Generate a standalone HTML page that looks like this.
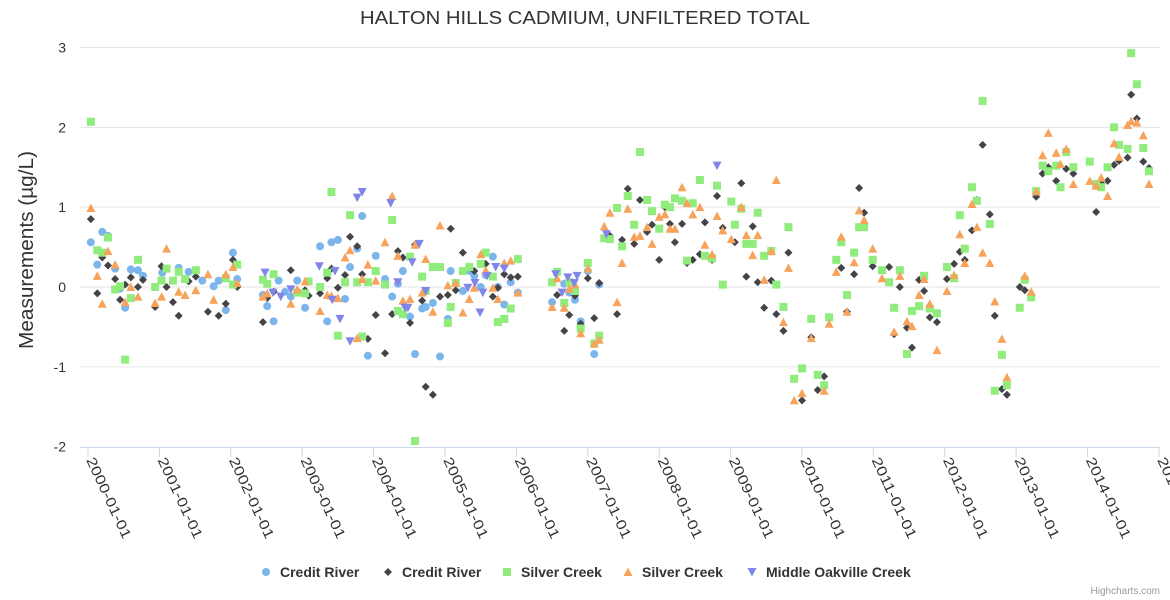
<!DOCTYPE html>
<html><head><meta charset="utf-8"><style>
html,body{margin:0;padding:0;background:#fff;}
svg{display:block;font-family:"Liberation Sans",sans-serif;}
</style></head><body>
<svg id="chart" width="1170" height="600">
<rect width="1170" height="600" fill="#fff"/>
<text x="585" y="24" text-anchor="middle" font-size="18" fill="#333" textLength="450" lengthAdjust="spacingAndGlyphs">HALTON HILLS CADMIUM, UNFILTERED TOTAL</text>
<text transform="translate(33,250) rotate(-90)" text-anchor="middle" font-size="20" fill="#333" textLength="198" lengthAdjust="spacingAndGlyphs">Measurements (µg/L)</text>
<g id="grid"></g><g id="axes"></g><g id="marks"></g><g id="legend"></g>
<text x="1160" y="594" text-anchor="end" font-size="10" fill="#999">Highcharts.com</text>
</svg>
<script>
const yTicks=[-2,-1,0,1,2,3];
const xTickYears=[2000,2001,2002,2003,2004,2005,2006,2007,2008,2009,2010,2011,2012,2013,2014,2015];
const seriesNames=["Credit River","Credit River","Silver Creek","Silver Creek","Middle Oakville Creek"];
const creditRiverA=[[2000.04,0.56],[2000.13,0.28],[2000.20,0.69],[2000.28,0.64],[2000.38,0.23],[2000.45,-0.02],[2000.52,-0.26],[2000.60,0.22],[2000.70,0.21],[2000.77,0.14],[2001.04,0.18],[2001.27,0.24],[2001.41,0.19],[2001.60,0.08],[2001.76,0.01],[2001.83,0.08],[2001.93,-0.29],[2002.03,0.43],[2002.09,0.10],[2002.45,-0.10],[2002.51,-0.24],[2002.60,-0.43],[2002.67,0.08],[2002.76,-0.06],[2002.84,-0.12],[2002.93,0.08],[2003.04,-0.26],[2003.25,0.51],[2003.35,-0.43],[2003.41,0.56],[2003.50,0.59],[2003.60,-0.15],[2003.67,0.25],[2003.77,0.48],[2003.84,0.89],[2003.92,-0.86],[2004.03,0.39],[2004.16,0.10],[2004.26,-0.12],[2004.34,0.04],[2004.41,0.20],[2004.51,-0.37],[2004.58,-0.84],[2004.68,-0.27],[2004.73,-0.25],[2004.83,-0.20],[2004.93,-0.87],[2005.04,-0.40],[2005.08,0.20],[2005.25,-0.05],[2005.35,0.20],[2005.41,0.14],[2005.50,0.00],[2005.57,0.15],[2005.67,0.38],[2005.74,0.00],[2005.83,-0.22],[2005.92,0.06],[2006.02,-0.07],[2006.50,-0.19],[2006.67,0.04],[2006.74,-0.07],[2006.82,-0.16],[2006.90,-0.43],[2007.00,0.20],[2007.09,-0.84],[2007.16,0.03]];
const creditRiverB=[[2000.04,0.85],[2000.13,-0.08],[2000.20,0.37],[2000.28,0.27],[2000.38,0.10],[2000.45,-0.16],[2000.52,0.03],[2000.60,0.12],[2000.70,0.00],[2000.77,0.09],[2000.94,-0.25],[2001.03,0.26],[2001.10,0.00],[2001.19,-0.19],[2001.27,-0.36],[2001.41,0.07],[2001.51,0.13],[2001.68,-0.31],[2001.83,-0.36],[2001.93,-0.21],[2002.03,0.34],[2002.09,0.00],[2002.45,-0.44],[2002.51,-0.14],[2002.60,-0.06],[2002.84,0.21],[2003.04,-0.04],[2003.09,-0.11],[2003.25,-0.08],[2003.35,0.11],[2003.41,0.23],[2003.50,-0.01],[2003.60,0.15],[2003.67,0.63],[2003.77,0.51],[2003.84,0.16],[2003.92,-0.65],[2004.03,-0.35],[2004.16,-0.83],[2004.26,-0.34],[2004.34,0.45],[2004.41,0.37],[2004.51,-0.45],[2004.58,0.53],[2004.68,-0.17],[2004.73,-1.25],[2004.83,-1.35],[2004.93,-0.12],[2005.04,-0.10],[2005.08,0.73],[2005.15,-0.04],[2005.25,0.43],[2005.41,0.20],[2005.57,0.29],[2005.67,-0.12],[2005.74,-0.01],[2005.83,0.16],[2005.92,0.12],[2006.02,0.13],[2006.57,-0.10],[2006.67,-0.55],[2006.74,-0.35],[2006.82,-0.11],[2006.90,-0.46],[2007.00,0.11],[2007.09,-0.39],[2007.16,0.05],[2007.31,0.64],[2007.41,-0.34],[2007.48,0.59],[2007.56,1.23],[2007.65,0.54],[2007.73,1.09],[2007.83,0.69],[2007.90,0.78],[2008.00,0.34],[2008.08,1.00],[2008.15,0.79],[2008.22,0.56],[2008.32,0.79],[2008.39,0.30],[2008.47,0.34],[2008.57,0.41],[2008.64,0.81],[2008.74,0.34],[2008.81,1.14],[2008.89,0.74],[2009.06,0.56],[2009.15,1.30],[2009.22,0.13],[2009.31,0.76],[2009.38,0.06],[2009.47,-0.26],[2009.57,0.08],[2009.64,-0.34],[2009.74,-0.55],[2009.81,0.43],[2010.00,-1.42],[2010.13,-0.63],[2010.22,-1.29],[2010.31,-1.12],[2010.55,0.24],[2010.63,-0.31],[2010.73,0.16],[2010.80,1.24],[2010.87,0.93],[2010.99,0.26],[2011.22,0.25],[2011.29,-0.59],[2011.37,0.00],[2011.47,-0.51],[2011.54,-0.76],[2011.64,0.09],[2011.71,-0.05],[2011.79,-0.38],[2011.89,-0.44],[2012.03,0.10],[2012.13,0.29],[2012.21,0.44],[2012.28,0.34],[2012.38,0.71],[2012.45,1.09],[2012.53,1.78],[2012.63,0.91],[2012.70,-0.36],[2012.80,-1.28],[2012.87,-1.35],[2013.05,0.00],[2013.12,-0.04],[2013.28,1.13],[2013.37,1.42],[2013.45,1.50],[2013.56,1.33],[2013.70,1.48],[2013.80,1.42],[2014.12,0.94],[2014.19,1.30],[2014.28,1.33],[2014.37,1.53],[2014.44,1.58],[2014.56,1.62],[2014.61,2.41],[2014.69,2.11],[2014.78,1.57],[2014.86,1.49]];
const silverCreekA=[[2000.04,2.07],[2000.13,0.46],[2000.20,0.43],[2000.28,0.62],[2000.38,-0.03],[2000.45,0.01],[2000.52,-0.91],[2000.60,-0.14],[2000.70,0.34],[2000.94,0.00],[2001.03,0.08],[2001.10,0.23],[2001.19,0.08],[2001.27,0.19],[2001.36,0.10],[2001.51,0.21],[2001.93,0.11],[2002.03,0.03],[2002.09,0.28],[2002.45,0.09],[2002.51,0.04],[2002.60,0.16],[2002.93,-0.07],[2003.04,-0.08],[2003.09,0.07],[2003.25,0.00],[2003.35,0.18],[2003.41,1.19],[2003.50,-0.61],[2003.60,0.06],[2003.67,0.90],[2003.77,0.06],[2003.84,-0.62],[2003.92,0.06],[2004.03,0.20],[2004.16,0.03],[2004.26,0.84],[2004.34,-0.30],[2004.41,-0.34],[2004.51,0.38],[2004.58,-1.93],[2004.68,0.13],[2004.73,-0.05],[2004.83,0.25],[2004.93,0.25],[2005.04,-0.45],[2005.08,-0.25],[2005.15,0.05],[2005.25,0.20],[2005.34,0.25],[2005.50,0.29],[2005.57,0.43],[2005.67,0.13],[2005.74,-0.44],[2005.83,-0.40],[2005.92,-0.27],[2006.02,0.35],[2006.50,0.06],[2006.57,0.19],[2006.67,-0.20],[2006.74,0.06],[2006.82,-0.05],[2006.90,-0.52],[2007.00,0.30],[2007.09,-0.71],[2007.16,-0.61],[2007.23,0.61],[2007.31,0.60],[2007.41,0.99],[2007.48,0.51],[2007.56,1.14],[2007.65,0.78],[2007.73,1.69],[2007.83,1.09],[2007.90,0.95],[2008.00,0.73],[2008.08,1.03],[2008.15,1.00],[2008.22,1.11],[2008.32,1.08],[2008.39,0.33],[2008.47,1.05],[2008.57,1.34],[2008.64,0.39],[2008.74,0.36],[2008.81,1.27],[2008.89,0.03],[2009.01,1.07],[2009.06,0.78],[2009.15,0.98],[2009.22,0.54],[2009.31,0.54],[2009.38,0.93],[2009.47,0.39],[2009.57,0.45],[2009.64,0.03],[2009.74,-0.25],[2009.81,0.75],[2009.89,-1.15],[2010.00,-1.02],[2010.13,-0.40],[2010.22,-1.10],[2010.31,-1.23],[2010.38,-0.38],[2010.48,0.34],[2010.55,0.56],[2010.63,-0.10],[2010.73,0.43],[2010.80,0.75],[2010.87,0.75],[2010.99,0.34],[2011.12,0.21],[2011.22,0.06],[2011.29,-0.26],[2011.37,0.21],[2011.47,-0.84],[2011.54,-0.30],[2011.64,-0.24],[2011.71,0.14],[2011.79,-0.27],[2011.89,-0.33],[2012.03,0.25],[2012.13,0.11],[2012.21,0.90],[2012.28,0.48],[2012.38,1.25],[2012.45,1.08],[2012.53,2.33],[2012.63,0.79],[2012.70,-1.30],[2012.80,-0.85],[2012.87,-1.23],[2013.05,-0.26],[2013.12,0.09],[2013.21,-0.13],[2013.28,1.20],[2013.37,1.52],[2013.45,1.45],[2013.56,1.52],[2013.62,1.25],[2013.70,1.69],[2013.80,1.50],[2014.03,1.57],[2014.12,1.29],[2014.19,1.25],[2014.28,1.50],[2014.37,2.00],[2014.44,1.78],[2014.56,1.73],[2014.61,2.93],[2014.69,2.54],[2014.78,1.74],[2014.86,1.45]];
const silverCreekB=[[2000.04,0.99],[2000.13,0.14],[2000.20,-0.21],[2000.28,0.45],[2000.38,0.28],[2000.52,-0.19],[2000.60,0.00],[2000.70,-0.12],[2000.94,-0.20],[2001.03,-0.12],[2001.10,0.48],[2001.27,-0.06],[2001.36,-0.10],[2001.51,-0.04],[2001.68,0.16],[2001.76,-0.16],[2001.93,0.16],[2002.03,0.25],[2002.09,0.05],[2002.45,-0.12],[2002.51,-0.08],[2002.84,-0.21],[2002.93,-0.03],[2003.04,0.07],[2003.25,-0.30],[2003.35,-0.10],[2003.41,-0.11],[2003.50,-0.14],[2003.60,0.37],[2003.67,0.46],[2003.77,-0.64],[2003.84,0.10],[2003.92,0.28],[2004.03,0.08],[2004.16,0.56],[2004.26,1.14],[2004.34,0.39],[2004.41,-0.17],[2004.51,-0.15],[2004.58,0.53],[2004.68,-0.07],[2004.73,0.35],[2004.83,-0.31],[2004.93,0.77],[2005.04,0.02],[2005.15,0.05],[2005.25,-0.32],[2005.34,-0.15],[2005.41,-0.01],[2005.50,0.41],[2005.57,0.21],[2005.67,-0.01],[2005.74,-0.15],[2005.83,0.30],[2005.92,0.33],[2006.02,-0.07],[2006.50,-0.25],[2006.57,0.11],[2006.67,-0.26],[2006.74,-0.02],[2006.82,0.03],[2006.90,-0.58],[2007.00,0.23],[2007.09,-0.71],[2007.16,-0.66],[2007.23,0.76],[2007.31,0.93],[2007.41,-0.19],[2007.48,0.30],[2007.56,0.98],[2007.65,0.63],[2007.73,0.64],[2007.83,0.75],[2007.90,0.54],[2008.00,0.88],[2008.08,0.91],[2008.15,0.73],[2008.22,0.73],[2008.32,1.25],[2008.39,1.05],[2008.47,0.91],[2008.57,1.00],[2008.64,0.53],[2008.74,0.41],[2008.81,0.89],[2008.89,0.71],[2009.01,0.60],[2009.15,1.00],[2009.22,0.65],[2009.31,0.40],[2009.38,0.65],[2009.47,0.09],[2009.57,0.45],[2009.64,1.34],[2009.74,-0.44],[2009.81,0.24],[2009.89,-1.42],[2010.00,-1.33],[2010.13,-0.64],[2010.31,-1.30],[2010.38,-0.46],[2010.48,0.19],[2010.55,0.63],[2010.63,-0.31],[2010.73,0.31],[2010.80,0.96],[2010.87,0.84],[2010.99,0.48],[2011.12,0.11],[2011.29,-0.56],[2011.37,0.14],[2011.47,-0.43],[2011.54,-0.49],[2011.64,-0.10],[2011.71,0.10],[2011.79,-0.21],[2011.89,-0.79],[2012.03,-0.05],[2012.13,0.15],[2012.21,0.66],[2012.28,0.30],[2012.38,1.04],[2012.45,0.75],[2012.53,0.43],[2012.63,0.30],[2012.70,-0.18],[2012.80,-0.65],[2012.87,-1.13],[2013.12,0.14],[2013.21,-0.06],[2013.28,1.20],[2013.37,1.65],[2013.45,1.93],[2013.56,1.68],[2013.62,1.54],[2013.70,1.73],[2013.80,1.29],[2014.03,1.33],[2014.12,1.27],[2014.19,1.37],[2014.28,1.14],[2014.37,1.80],[2014.44,1.63],[2014.56,2.03],[2014.61,2.08],[2014.69,2.06],[2014.78,1.90],[2014.86,1.29]];
const middleOakville=[[2002.48,0.18],[2002.59,-0.07],[2002.70,-0.12],[2002.84,-0.03],[2003.24,0.26],[2003.42,-0.16],[2003.46,0.20],[2003.53,-0.40],[2003.67,-0.68],[2003.77,1.12],[2003.84,1.19],[2004.24,1.05],[2004.34,0.06],[2004.44,-0.26],[2004.48,-0.26],[2004.54,0.31],[2004.64,0.54],[2004.73,-0.05],[2005.32,-0.01],[2005.42,0.05],[2005.49,-0.32],[2005.53,-0.07],[2005.59,0.14],[2005.71,0.25],[2005.83,0.23],[2006.55,0.16],[2006.64,-0.07],[2006.72,0.12],[2006.81,0.05],[2006.85,0.14],[2007.26,0.66],[2008.81,1.52]];

const NS="http://www.w3.org/2000/svg";
const L=80,R=1160,T=48,B=447;
function xs(t){return 88+(t-2000)*71.4;}
function ys(v){return 287-v*79.83;}
function mk(tag,attrs,parent){const e=document.createElementNS(NS,tag);for(const k in attrs)e.setAttribute(k,attrs[k]);parent.appendChild(e);return e;}
const grid=document.getElementById('grid'),axes=document.getElementById('axes'),marks=document.getElementById('marks'),legend=document.getElementById('legend');
yTicks.forEach(v=>{
  const y=ys(v);
  if(v!==-2){const g=mk('line',{x1:L,x2:R,y1:y,y2:y,stroke:'#e6e6e6','stroke-width':1},grid);
  
  }
  const t=mk('text',{x:66,y:y+5,'text-anchor':'end','font-size':14,fill:'#333'},axes);
  t.textContent=v;
  
  
});
const ax=mk('line',{x1:L,x2:R,y1:B+0.5,y2:B+0.5,stroke:'#ccd6eb'},axes);


xTickYears.forEach(yr=>{
  const x=xs(yr);
  const tk=mk('line',{x1:x,x2:x,y1:B,y2:B+10,stroke:'#ccd6eb'},axes);
  
  
  const t=mk('text',{transform:`translate(${x-2},${B+13}) rotate(65)`,'font-size':14,fill:'#333',textLength:88,lengthAdjust:'spacingAndGlyphs'},axes);
  t.textContent=yr+'-01-01';
  
  
});
const colors=['#7cb5ec','#434348','#90ed7d','#f7a35c','#8085e9'];
function shape(type,x,y,c,parent){
  if(type===0)return mk('circle',{cx:x,cy:y,r:4,fill:c},parent);
  if(type===1)return mk('path',{d:`M${x} ${y-4}L${x+4} ${y}L${x} ${y+4}L${x-4} ${y}Z`,fill:c},parent);
  if(type===2)return mk('rect',{x:x-4,y:y-4,width:8,height:8,fill:c},parent);
  if(type===3)return mk('path',{d:`M${x} ${y-4.5}L${x+4.5} ${y+4}L${x-4.5} ${y+4}Z`,fill:c},parent);
  return mk('path',{d:`M${x} ${y+4.5}L${x+4.5} ${y-4}L${x-4.5} ${y-4}Z`,fill:c},parent);
}
const allSeries=[creditRiverA,creditRiverB,silverCreekA,silverCreekB,middleOakville];
const pointNames=['credit-river-point','credit-river-2-point','silver-creek-point','silver-creek-2-point','middle-oakville-point'];
allSeries.forEach((data,i)=>{
  const g=mk('g',{},marks);
  
  
  data.forEach(d=>{
    const p=shape(i,xs(d[0]),ys(d[1]),colors[i],g);
    
    
  });
});
const legX=[266,388,507,628,752];
seriesNames.forEach((n,i)=>{
  const g=mk('g',{},legend);
  
  
  shape(i,legX[i],572,colors[i],g);
  const t=mk('text',{x:legX[i]+14,y:577,'font-size':14,'font-weight':'bold',fill:'#333'},g);
  t.textContent=n;
});
</script>
</body></html>
